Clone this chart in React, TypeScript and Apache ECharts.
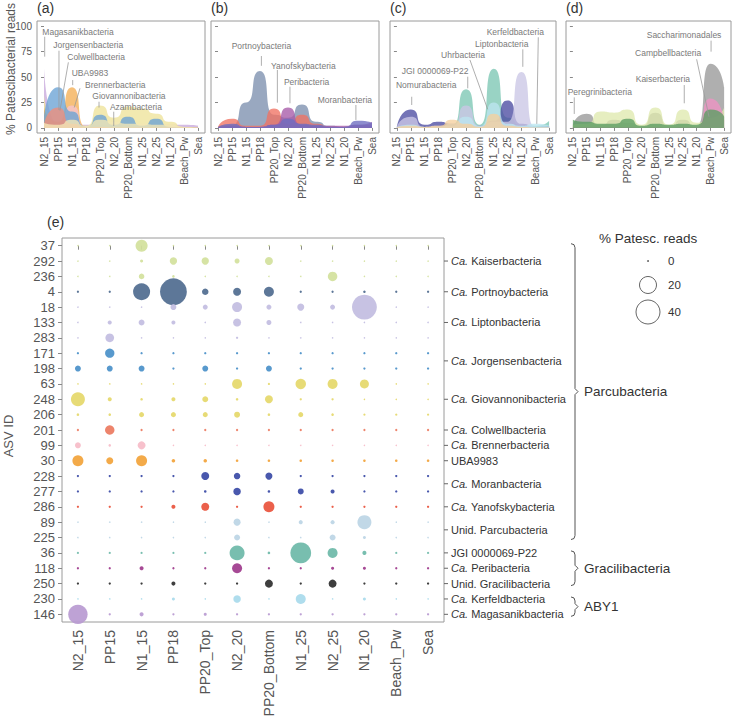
import React, { useEffect, useRef } from 'react';
import * as echarts from 'echarts';

const FONT = '"Liberation Sans", Arial, Helvetica, sans-serif';

// ---------- shared categories ----------
const sites = ['N2_15', 'PP15', 'N1_15', 'PP18', 'PP20_Top', 'N2_20', 'PP20_Bottom', 'N1_25', 'N2_25', 'N1_20', 'Beach_Pw', 'Sea'];
const pctTicks = [0, 25, 50, 75, 100];

// ---------- panel (a) : % Patescibacterial reads ----------
const magasanikA = [58, 4, 4, 3, 3, 3, 3, 3, 3, 3, 3, 2];
const giovannoniA = [32, 2, 2, 2, 22, 10, 21, 19, 14, 6, 1, 0.5];
const uba9983A = [20, 6, 40, 1, 1, 0.5, 0.5, 0.5, 0.5, 0.5, 0.3, 0.3];
const brennerA = [4, 2, 22, 0.5, 0.5, 0.5, 0.5, 0.5, 0.5, 0.5, 0.3, 0.3];
const jorgensenA = [11, 40, 16, 1, 13, 3, 11, 2, 9, 1, 0.5, 0.5];
const colwellA = [3, 20, 4, 0.5, 1, 0.5, 0.5, 0.5, 0.5, 0.5, 0.3, 0.3];
const azambacteriaA = [5, 3, 8, 2, 8, 6, 4, 4, 3, 3, 1, 0.5];

// ---------- panel (b) ----------
const portnoyB = [1, 3, 25, 56, 13, 10, 23, 6, 2, 1, 3, 2];
const yanofskyB = [1, 9, 2, 2, 19, 4, 13, 4, 1, 1, 1, 1];
const peribacteriaB = [0.5, 2, 1, 1, 3, 20, 3, 2, 2, 2, 3, 6];
const moranB = [0.5, 4, 1, 1, 3, 9, 4, 3, 1, 1, 7, 5];

// ---------- panel (c) ----------
const jgiC = [1, 2, 1, 1, 3, 38, 3, 58, 10, 3, 2, 7];
const nomuraC = [1, 18, 3, 6, 4, 3, 2, 7, 27, 4, 1, 2];
const liptonC = [1, 11, 1, 2, 2, 22, 2, 6, 6, 55, 1, 1];
const kerfeldC = [0.5, 3, 1, 1, 4, 11, 2, 25, 4, 2, 4, 2];
const uhrC = [0.5, 2, 1, 2, 8, 4, 1, 14, 2, 1, 0.5, 0.5];

// ---------- panel (d) ----------
const saccharimonadalesD = [3, 14, 3, 8, 5, 2, 15, 2, 8, 2, 63, 40];
const kaiserD = [3, 4, 16, 15, 18, 3, 20, 3, 18, 5, 10, 20];
const campbellD = [1, 1, 1, 1, 1, 0.5, 1, 0.5, 1, 1, 29, 8];
const peregriniD = [8, 6, 4, 4, 9, 2, 4, 3, 4, 3, 18, 11];

// ---------- panel (e) : ASV bubbles ----------
const asvIds = ['37', '292', '236', '4', '18', '133', '283', '171', '198', '63', '248', '206', '201', '99', '30', '228', '277', '286', '89', '225', '36', '118', '250', '230', '146'];
const asvReads: number[][] = [
  [0, 0, 10, 0, 0, 0, 0, 0, 0, 0, 0, 0],
  [0, 0, 0.5, 3.6, 3.6, 1.6, 4.3, 0, 0, 0, 0, 0],
  [0, 0, 2, 0.3, 0, 0, 0, 0, 6.1, 0, 0, 0],
  [0.2, 0.2, 20, 50, 2.8, 4.3, 6.8, 0.2, 0.2, 0.3, 0.2, 0.2],
  [0, 0, 0, 2.3, 1.6, 6.8, 1.6, 3.3, 1.6, 43, 0, 0],
  [0, 1, 2.3, 1, 0, 4.3, 1.6, 0, 0, 0, 0, 0],
  [0, 5.1, 0, 0, 0, 0.2, 0, 0, 0, 0, 0, 0],
  [0.2, 5.9, 0.2, 0.2, 0.2, 0.2, 0.2, 0.2, 0.2, 0.2, 0.2, 0.2],
  [2.3, 2.3, 2.3, 0.2, 2.3, 0.2, 2.3, 0.2, 0.2, 0.2, 0.2, 0.2],
  [0, 0, 0, 0, 0, 6.8, 0.2, 7.5, 6.8, 5.5, 0, 0],
  [13.5, 1, 0.3, 1, 2.3, 0.3, 4.3, 0.2, 0.2, 0, 0, 0],
  [0.3, 0.3, 1.6, 1.6, 1.6, 2.3, 0.3, 1.6, 0.3, 0.2, 0.2, 0.2],
  [0.2, 6.1, 0.2, 0.2, 0.2, 0.2, 0.2, 0.2, 0.2, 0.2, 0.2, 0.2],
  [2.3, 0.3, 4.3, 0, 0, 0, 0, 0, 0, 0, 0, 0],
  [8.3, 3.3, 8.3, 0.7, 0.7, 0.3, 0.3, 0.3, 0.3, 0.3, 0.3, 0.3],
  [0.2, 0.2, 0.2, 0.2, 4.3, 2.8, 3.3, 0.2, 0.2, 0.2, 0.2, 0.2],
  [0.2, 0.2, 0.2, 0.2, 0.3, 3.8, 0.3, 2.3, 1, 0.2, 0.2, 0.2],
  [0.2, 0.2, 0.2, 1, 4.3, 0.2, 8.3, 0.2, 0.2, 0.2, 0.2, 0.2],
  [0, 0, 0, 0, 0, 3.3, 0, 1, 1, 13.5, 0, 0],
  [0, 0, 0, 0, 0, 2.3, 0, 0, 2.3, 0.5, 0, 0],
  [0.2, 0.2, 0.2, 0.2, 0.2, 15.5, 0.3, 30, 6.8, 1, 0.2, 0.2],
  [0.2, 0.2, 1, 0.2, 0.2, 6.8, 0.2, 0.2, 0.5, 0.5, 0.2, 0.2],
  [0.2, 0.2, 0.2, 1, 0.2, 0.2, 4.3, 0.2, 4.3, 0.2, 0.2, 0.2],
  [0, 0, 0, 0.5, 0, 3.8, 0, 6.8, 0, 0.5, 0, 0],
  [26, 0.2, 1, 0.2, 0.5, 0.2, 0.2, 0.2, 0.2, 0.2, 0.2, 0.2],
];
const legendValues = [0, 20, 40];

const taxa = [
  { name: 'Kaiserbacteria', ca: true, asvs: ['37', '292', '236'] },
  { name: 'Portnoybacteria', ca: true, asvs: ['4'] },
  { name: 'Liptonbacteria', ca: true, asvs: ['18', '133', '283'] },
  { name: 'Jorgensenbacteria', ca: true, asvs: ['171', '198'] },
  { name: 'Giovannonibacteria', ca: true, asvs: ['63', '248', '206'] },
  { name: 'Colwellbacteria', ca: true, asvs: ['201'] },
  { name: 'Brennerbacteria', ca: true, asvs: ['99'] },
  { name: 'UBA9983', ca: false, asvs: ['30'] },
  { name: 'Moranbacteria', ca: true, asvs: ['228', '277'] },
  { name: 'Yanofskybacteria', ca: true, asvs: ['286'] },
  { name: 'Unid. Parcubacteria', ca: false, asvs: ['89', '225'] },
  { name: 'JGI 0000069-P22', ca: false, asvs: ['36'] },
  { name: 'Peribacteria', ca: true, asvs: ['118'] },
  { name: 'Unid. Gracilibacteria', ca: false, asvs: ['250'] },
  { name: 'Kerfeldbacteria', ca: true, asvs: ['230'] },
  { name: 'Magasanikbacteria', ca: true, asvs: ['146'] },
];
const phyla = [
  { name: 'Parcubacteria', from: '37', to: '225' },
  { name: 'Gracilibacteria', from: '36', to: '250' },
  { name: 'ABY1', from: '230', to: '146' },
];

// ---------- styles ----------
const taxonColor: Record<string, string> = {
  Kaiserbacteria: '#d3e19c', Portnoybacteria: '#4f6b8f', Liptonbacteria: '#c2bde1', Jorgensenbacteria: '#4a90c9',
  Giovannonibacteria: '#e5d86a', Colwellbacteria: '#ec7a60', Brennerbacteria: '#f6bcc8', UBA9983: '#f2a33a',
  Moranbacteria: '#3a4aa6', Yanofskybacteria: '#e9523c', 'Unid. Parcubacteria': '#bcd5e5', 'JGI 0000069-P22': '#6cb9a8',
  Peribacteria: '#9e3a8c', 'Unid. Gracilibacteria': '#2e2e2e', Kerfeldbacteria: '#a8daeb', Magasanikbacteria: '#b89ad1',
};
const asvColor = (row: number) => {
  const t = taxa.find((x) => x.asvs.includes(asvIds[row]));
  return t ? taxonColor[t.name] : '#999';
};
const bubbleSize = (v: number) => Math.sqrt(2.25 + 14.35 * v);

const panels = [
  {
    tag: '(a)', left: 37, width: 168,
    series: [
      { name: 'Magasanikbacteria', data: magasanikA, color: '#c8a9dc' },
      { name: 'Giovannonibacteria', data: giovannoniA, color: '#eee39a' },
      { name: 'UBA9983', data: uba9983A, color: '#f4ae55' },
      { name: 'Brennerbacteria', data: brennerA, color: '#f7c4ce' },
      { name: 'Jorgensenbacteria', data: jorgensenA, color: '#6aa3d5' },
      { name: 'Colwellbacteria', data: colwellA, color: '#f08e7a' },
      { name: 'Azambacteria', data: azambacteriaA, color: '#f3e8b6' },
    ],
    notes: [
      { label: 'Magasanikbacteria', tx: -0.12, ty: 94.5, align: 'left', l: [0.05, 89.6, 0.05, 70] },
      { label: 'Jorgensenbacteria', tx: 0.66, ty: 81.4, align: 'left', l: [1.07, 75.8, 1.07, 17.6] },
      { label: 'Colwellbacteria', tx: 1.66, ty: 69.3, align: 'left', l: [1.74, 64.4, 1.14, 17] },
      { label: 'UBA9983', tx: 1.98, ty: 53.6, align: 'left', l: [2.05, 47, 2.05, 42] },
      { label: 'Brennerbacteria', tx: 2.93, ty: 42, align: 'left', l: [2.57, 38.9, 2.16, 20] },
      { label: 'Giovannonibacteria', tx: 3.45, ty: 31.3, align: 'left', l: [3.93, 25.7, 3.93, 20] },
      { label: 'Azambacteria', tx: 4.71, ty: 20.2, align: 'left', l: [4.98, 15.9, 4.98, 1.9] },
    ],
  },
  {
    tag: '(b)', left: 211, width: 168,
    series: [
      { name: 'Portnoybacteria', data: portnoyB, color: '#7c90ae' },
      { name: 'Yanofskybacteria', data: yanofskyB, color: '#f07263' },
      { name: 'Peribacteria', data: peribacteriaB, color: '#a65aa8' },
      { name: 'Moranbacteria', data: moranB, color: '#6d6dc0' },
    ],
    notes: [
      { label: 'Portnoybacteria', tx: 3.1, ty: 80.5, align: 'center', l: [3.1, 70.6, 3.1, 61] },
      { label: 'Yanofskybacteria', tx: 3.79, ty: 60.8, align: 'left', l: [4.24, 56.9, 4.24, 24.8] },
      { label: 'Peribacteria', tx: 4.71, ty: 45.4, align: 'left', l: [5.14, 40.5, 5.14, 24.2] },
      { label: 'Moranbacteria', tx: 7.12, ty: 27.4, align: 'left', l: [9.85, 22.5, 9.85, 7.8] },
    ],
  },
  {
    tag: '(c)', left: 390, width: 166,
    series: [
      { name: 'JGI 0000069-P22', data: jgiC, color: '#7cc7b3' },
      { name: 'Nomurabacteria', data: nomuraC, color: '#4b4ba2' },
      { name: 'Liptonbacteria', data: liptonC, color: '#cac6e6' },
      { name: 'Kerfeldbacteria', data: kerfeldC, color: '#bce5f0' },
      { name: 'Uhrbacteria', data: uhrC, color: '#f5cf9e' },
    ],
    notes: [
      { label: 'Kerfeldbacteria', tx: 6.49, ty: 94.5, align: 'left', l: [10.22, 89, 10.11, 4] },
      { label: 'Liptonbacteria', tx: 5.65, ty: 82.4, align: 'left', l: [9.1, 77.2, 9.1, 60] },
      { label: 'Uhrbacteria', tx: 3.19, ty: 71.6, align: 'left', l: [5.28, 66.7, 6.56, 18.3] },
      { label: 'JGI 0000069-P22', tx: 0.35, ty: 55.9, align: 'left', l: [5.12, 50.3, 5.12, 38.9] },
      { label: 'Nomurabacteria', tx: -0.07, ty: 42.1, align: 'left', l: [1.07, 30.6, 1.07, 22.5] },
    ],
  },
  {
    tag: '(d)', left: 566, width: 165,
    series: [
      { name: 'Saccharimonadales', data: saccharimonadalesD, color: '#999999' },
      { name: 'Kaiserbacteria', data: kaiserD, color: '#dfe9ae' },
      { name: 'Campbellbacteria', data: campbellD, color: '#ef93c4' },
      { name: 'Peregrinibacteria', data: peregriniD, color: '#5b9e63' },
    ],
    notes: [
      { label: 'Saccharimonadales', tx: 5.37, ty: 91.3, align: 'left', l: [10.05, 85.7, 10.05, 74.9] },
      { label: 'Campbellbacteria', tx: 4.52, ty: 73.3, align: 'left', l: [9.0, 67.4, 9.9, 11] },
      { label: 'Kaiserbacteria', tx: 4.57, ty: 47.7, align: 'left', l: [8.1, 42.1, 8.1, 24.2] },
      { label: 'Peregrinibacteria', tx: -0.38, ty: 35.6, align: 'left', l: [0.1, 30, 0.1, 13.7] },
    ],
  },
];

function buildOption() {
  const grid: any[] = [];
  const xAxis: any[] = [];
  const yAxis: any[] = [];
  const series: any[] = [];
  const graphic: any[] = [];

  panels.forEach((p, pi) => {
    grid.push({ left: p.left, top: 21, width: p.width, height: 112, show: true, borderColor: '#9a9a9a', borderWidth: 1, backgroundColor: 'transparent' });
    xAxis.push({
      type: 'category', gridIndex: pi, data: sites, boundaryGap: true,
      axisLine: { show: false },
      axisTick: { show: true, alignWithLabel: true, length: 3, lineStyle: { color: '#888' } },
      axisLabel: { rotate: 90, interval: 0, fontSize: 10, color: '#555', margin: 4, fontFamily: FONT },
    });
    xAxis.push({ type: 'value', gridIndex: pi, min: -0.5, max: 11.5, show: false });
    yAxis.push({
      type: 'value', gridIndex: pi, min: -5, max: 105,
      axisLine: { show: false }, splitLine: { show: false },
      axisTick: { show: true, length: 3, customValues: pctTicks, lineStyle: { color: '#888' } },
      axisLabel: { show: pi === 0, customValues: pctTicks, fontSize: 10, color: '#555', margin: 5, fontFamily: FONT },
    });
    p.series.forEach((s) => {
      series.push({
        type: 'line', name: s.name, xAxisIndex: pi * 2, yAxisIndex: pi, data: s.data,
        smooth: 0.8, smoothMonotone: 'x', symbol: 'none', silent: true,
        lineStyle: { width: 0, color: s.color },
        itemStyle: { color: s.color },
        areaStyle: { color: s.color, opacity: 0.78 },
      });
    });
    const notes = p.notes;
    series.push({
      type: 'custom', xAxisIndex: pi * 2 + 1, yAxisIndex: pi, clip: false, silent: true, z: 10,
      data: notes.map((n, i) => [n.tx, n.ty, i]),
      renderItem: (params: any, api: any) => {
        const n = notes[api.value(2)];
        const a = api.coord([n.l[0], n.l[1]]);
        const b = api.coord([n.l[2], n.l[3]]);
        const t = api.coord([n.tx, n.ty]);
        return {
          type: 'group',
          children: [
            { type: 'line', shape: { x1: a[0], y1: a[1], x2: b[0], y2: b[1] }, style: { stroke: '#9a9a9a', lineWidth: 0.8 } },
            { type: 'text', x: t[0], y: t[1], style: { text: n.label, fill: '#7a7a7a', fontSize: 8.5, fontFamily: FONT, align: n.align, verticalAlign: 'middle' } },
          ],
        };
      },
    });
    graphic.push({ type: 'text', left: p.left, top: 1, style: { text: p.tag, fontSize: 14, fill: '#333', fontFamily: FONT } });
  });

  // bubble chart grid (index 4)
  grid.push({ left: 62, top: 238, width: 382, height: 384, show: true, borderColor: '#9a9a9a', borderWidth: 1, backgroundColor: 'transparent' });
  const bx = xAxis.length;
  xAxis.push({
    type: 'category', gridIndex: 4, data: sites, boundaryGap: true,
    axisLine: { show: false },
    axisTick: { show: true, alignWithLabel: true, length: 4, lineStyle: { color: '#888' } },
    axisLabel: { rotate: 90, interval: 0, fontSize: 14, color: '#555', margin: 8, fontFamily: FONT },
  });
  const by = yAxis.length;
  yAxis.push({
    type: 'category', gridIndex: 4, data: asvIds, inverse: true, boundaryGap: true,
    axisLine: { show: false },
    axisTick: { show: true, alignWithLabel: true, length: 4, lineStyle: { color: '#888' } },
    axisLabel: { interval: 0, fontSize: 13, color: '#555', margin: 7, fontFamily: FONT },
  });
  const byv = yAxis.length;
  yAxis.push({ type: 'value', gridIndex: 4, min: -0.5, max: asvIds.length - 0.5, inverse: true, show: false });

  const pts: number[][] = [];
  asvReads.forEach((row, r) => row.forEach((v, c) => pts.push([c, r, v])));
  series.push({
    type: 'scatter', xAxisIndex: bx, yAxisIndex: by, data: pts, silent: true,
    symbolSize: (val: number[]) => bubbleSize(val[2]),
    itemStyle: { color: (p: any) => asvColor(p.data[1]), opacity: 0.92 },
  });

  const rowOf = (id: string) => asvIds.indexOf(id);
  // taxon labels at right
  series.push({
    type: 'custom', xAxisIndex: bx, yAxisIndex: byv, clip: false, silent: true,
    data: taxa.map((t, i) => [0, t.asvs.reduce((s, a) => s + rowOf(a), 0) / t.asvs.length, i]),
    renderItem: (params: any, api: any) => {
      const t = taxa[api.value(2)];
      const y = api.coord([0, api.value(1)])[1];
      const x = params.coordSys.x + params.coordSys.width;
      return {
        type: 'group',
        children: [
          { type: 'line', shape: { x1: x, y1: y, x2: x + 4, y2: y }, style: { stroke: '#666', lineWidth: 1 } },
          {
            type: 'text', x: x + 7, y,
            style: {
              text: t.ca ? `{i|Ca.} ${t.name}` : t.name,
              rich: { i: { fontStyle: 'italic', fontSize: 11, fontFamily: FONT, fill: '#333' } },
              fontSize: 11, fontFamily: FONT, fill: '#333', align: 'left', verticalAlign: 'middle',
            },
          },
        ],
      };
    },
  });
  // phylum brackets
  series.push({
    type: 'custom', xAxisIndex: bx, yAxisIndex: byv, clip: false, silent: true,
    data: phyla.map((p, i) => [0, rowOf(p.from), rowOf(p.to), i]),
    renderItem: (params: any, api: any) => {
      const p = phyla[api.value(3)];
      const y0 = api.coord([0, api.value(1)])[1] - 2;
      const y1 = api.coord([0, api.value(2)])[1] + 2;
      const ym = (y0 + y1) / 2;
      const x = params.coordSys.x + params.coordSys.width + 131;
      return {
        type: 'group',
        children: [
          {
            type: 'polyline',
            shape: { points: [[x - 4, y0], [x - 1, y0 + 1], [x, y0 + 4], [x, ym - 3], [x + 3, ym], [x, ym + 3], [x, y1 - 4], [x - 1, y1 - 1], [x - 4, y1]] },
            style: { stroke: '#555', lineWidth: 1, fill: 'none' },
          },
          { type: 'text', x: x + 9, y: ym, style: { text: p.name, fontSize: 13.5, fontFamily: FONT, fill: '#333', align: 'left', verticalAlign: 'middle' } },
        ],
      };
    },
  });

  // size legend
  const legY = [261, 285, 312];
  graphic.push({ type: 'text', left: 599, top: 231, style: { text: '% Patesc. reads', fontSize: 13.5, fill: '#333', fontFamily: FONT } });
  legendValues.forEach((v, i) => {
    const r = bubbleSize(v) / 2;
    graphic.push(v === 0
      ? { type: 'circle', shape: { cx: 648, cy: legY[i], r: 0.9 }, style: { fill: '#555' } }
      : { type: 'circle', shape: { cx: 648, cy: legY[i], r }, style: { fill: 'none', stroke: '#666', lineWidth: 1 } });
    graphic.push({ type: 'text', x: 668, y: legY[i], style: { text: String(v), fontSize: 11.5, fill: '#333', fontFamily: FONT, verticalAlign: 'middle' } });
  });

  graphic.push({ type: 'text', left: 47, top: 215, style: { text: '(e)', fontSize: 14, fill: '#333', fontFamily: FONT } });
  graphic.push({ type: 'text', x: 11, y: 69, rotation: Math.PI / 2, style: { text: '% Patescibacterial reads', fontSize: 12, fill: '#555', fontFamily: FONT, align: 'center', verticalAlign: 'middle' } });
  graphic.push({ type: 'text', x: 8, y: 436, rotation: Math.PI / 2, style: { text: 'ASV ID', fontSize: 13, fill: '#555', fontFamily: FONT, align: 'center', verticalAlign: 'middle' } });

  return {
    animation: false,
    backgroundColor: '#ffffff',
    textStyle: { fontFamily: FONT },
    grid, xAxis, yAxis, series, graphic,
  };
}

export default function App() {
  const ref = useRef<HTMLDivElement>(null);
  useEffect(() => {
    if (!ref.current) return;
    const chart = echarts.init(ref.current, undefined, { renderer: 'svg' });
    chart.setOption(buildOption() as any);
    return () => chart.dispose();
  }, []);
  return <div ref={ref} style={{ position: 'absolute', left: 0, top: 0, width: 735, height: 724 }} />;
}
